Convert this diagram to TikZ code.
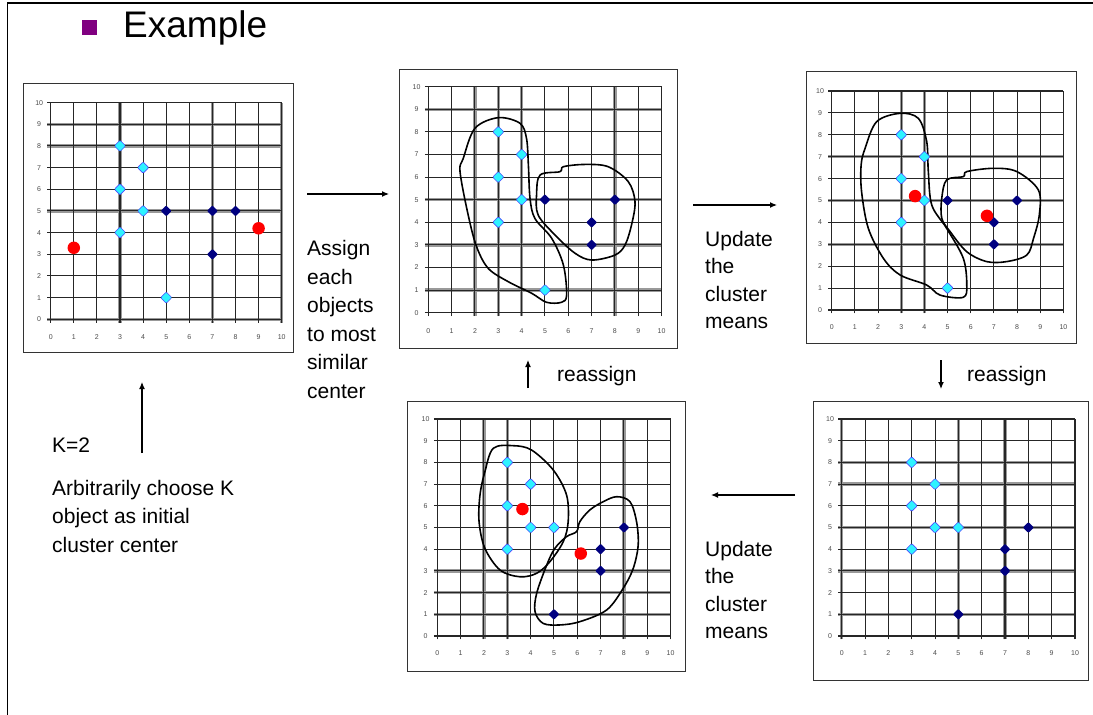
\documentclass[tikz,border=0pt]{standalone}
\usepackage{fontspec}
\setmainfont{Liberation Sans}
\usepackage{tikz}
\usetikzlibrary{arrows.meta,shapes.geometric}
\definecolor{kNavy}{HTML}{000080}
\definecolor{kCyan}{HTML}{2EF2FF}
\definecolor{kPurple}{HTML}{800080}

% grid of one panel: name, shaded x lines, shaded y lines
\newcommand{\kgrid}[3]{%
  \foreach \i in {#2} \draw[gridhalo] (\i,-0.15) -- (\i,10);
  \foreach \i in {#3} \draw[gridhalo] (-0.15,\i) -- (10,\i);
  \foreach \i in {0,...,10}{
    \draw[gridline] (\i,-0.15) -- (\i,10);
    \draw[gridline] (-0.15,\i) -- (10,\i);
    \node[tick] (#1x\i) at (\i,-0.8) {\i};
    \node[tick] (#1y\i) at (-0.5,\i) {\i};}}

\begin{document}
\begin{tikzpicture}[x=1pt,y=-1pt,
  panel/.style={draw=black!80,line width=1.3pt,fill=white,anchor=north west,inner sep=0pt},
  gridline/.style={black!85,line width=1.05pt},
  gridhalo/.style={black!40,line width=3.4pt},
  tick/.style={font=\fontsize{7}{8}\selectfont,text=black!70,inner sep=0pt},
  cyanpt/.style={diamond,fill=kCyan,draw=blue!70,line width=0.6pt,inner sep=0pt,minimum size=11.5pt,rounded corners=1pt},
  navypt/.style={diamond,fill=kNavy,inner sep=0pt,minimum size=11pt,rounded corners=1pt},
  redpt/.style={circle,fill=red,inner sep=0pt,minimum size=12.5pt},
  blob/.style={line width=1.6pt,line join=round},
  txt/.style={font=\fontsize{21}{27.5}\selectfont,align=left,inner sep=0pt,anchor=north west},
  arrow/.style={-{Latex[length=7pt,width=6pt]},line width=1.2pt}]
\fill[white] (0,0) rectangle (1093,715);
\useasboundingbox (0,0) rectangle (1093,715);
\draw[line width=1.8pt] (7.5,715) -- (7.5,3) -- (1093,3);
\node[fill=kPurple,minimum size=15pt,inner sep=0pt] (bullet) at (89.5,27.5) {};
\node[font=\fontsize{37}{40}\selectfont,anchor=base west,inner sep=0pt] (title) at (123,37) {Example};

% panels
\node[panel,minimum width=270pt,minimum height=269pt] (plot1) at (23,83) {};
\node[panel,minimum width=278pt,minimum height=279pt] (plot2) at (399,69) {};
\node[panel,minimum width=270pt,minimum height=272pt] (plot3) at (806,71) {};
\node[panel,minimum width=278pt,minimum height=270pt] (plot4) at (407,401) {};
\node[panel,minimum width=275pt,minimum height=279pt] (plot5) at (813,401) {};

\begin{scope}[shift={(50.7,319.3)},x=23.1pt,y=21.67pt]
\kgrid{ga}{3,7,10}{0,5,8,9}
\foreach \p [count=\i] in {(3,8),(4,7),(3,6),(4,5),(3,4),(5,1)} \node[cyanpt] (ac\i) at \p {};
\foreach \p [count=\i] in {(5,5),(7,5),(8,5),(7,3)} \node[navypt] (an\i) at \p {};
\node[redpt] (ar1) at (1,3.3) {};
\node[redpt] (ar2) at (9,4.2) {};
\end{scope}

\begin{scope}[shift={(428.3,312.7)},x=23.33pt,y=22.6pt]
\kgrid{gb}{2,3,4,8}{1,3,5,9}
\draw[blob] plot[smooth cycle,tension=0.55] coordinates {(2.0,8.16) (3.0,8.63) (3.93,8.38) (4.21,7.71) (4.29,6.53) (4.36,5.06) (4.57,4.17) (5.29,3.29) (5.79,2.11) (5.93,0.78) (5.71,0.46) (5.07,0.46) (4.43,0.86) (3.43,1.37) (2.57,1.96) (2.07,2.92) (1.71,4.32) (1.36,6.24) (1.5,6.83)};
\draw[blob] plot[smooth cycle,tension=0.55] coordinates {(4.79,6.09) (5.64,6.24) (5.79,6.46) (6.71,6.56) (7.71,6.46) (8.57,5.80) (8.86,4.91) (8.71,3.88) (8.43,2.99) (8.0,2.55) (7.0,2.33) (6.29,2.63) (5.43,3.44) (4.71,4.32) (4.64,5.21)};
\foreach \p [count=\i] in {(3,8),(4,7),(3,6),(4,5),(3,4),(5,1)} \node[cyanpt] (bc\i) at \p {};
\foreach \p [count=\i] in {(5,5),(8,5),(7,4),(7,3)} \node[navypt] (bn\i) at \p {};
\end{scope}

\begin{scope}[shift={(831.7,310)},x=23.17pt,y=21.9pt]
\kgrid{gc}{3,4}{3,5,7}
\draw[blob] plot[smooth cycle,tension=0.55] coordinates {(1.94,8.6) (2.95,8.98) (3.74,8.75) (4.1,7.69) (4.17,6.32) (4.32,4.79) (4.96,3.73) (5.68,2.36) (5.83,1.14) (5.68,0.58) (4.68,0.68) (4.1,1.14) (2.95,1.6) (2.23,2.36) (1.58,3.73) (1.29,5.40) (1.27,6.62) (1.44,7.38)};
\draw[blob] plot[smooth cycle,tension=0.55] coordinates {(4.96,5.94) (5.68,6.09) (5.83,6.32) (6.98,6.47) (7.99,6.32) (8.92,5.48) (8.96,4.34) (8.71,3.27) (8.42,2.51) (7.55,2.21) (6.69,2.21) (5.83,2.66) (5.11,3.58) (4.75,4.19) (4.75,5.10)};
\foreach \p [count=\i] in {(3,8),(4,7),(3,6),(4,5),(3,4),(5,1)} \node[cyanpt] (cc\i) at \p {};
\foreach \p [count=\i] in {(5,5),(8,5),(7,4),(7,3)} \node[navypt] (cn\i) at \p {};
\node[redpt] (cr1) at (3.6,5.2) {};
\node[redpt] (cr2) at (6.7,4.3) {};
\end{scope}

\begin{scope}[shift={(437.3,636)},x=23.33pt,y=21.7pt]
\kgrid{gd}{2,3,8}{1,2,3}
\draw[blob] plot[smooth cycle,tension=0.55] coordinates {(2.4,8.65) (3.26,8.77) (4.04,8.57) (4.97,7.65) (5.54,6.5) (5.61,5.27) (5.4,4.35) (4.83,3.43) (4.26,2.89) (3.54,2.73) (2.69,3.04) (2.04,4.04) (1.79,5.27) (1.83,6.5) (2.04,7.57)};
\draw[blob] plot[smooth cycle,tension=0.55] coordinates {(6.11,5.27) (6.54,5.81) (7.11,6.19) (7.69,6.42) (8.26,6.19) (8.54,5.27) (8.61,4.19) (8.4,3.12) (7.97,2.2) (7.26,1.2) (6.11,0.66) (5.26,0.51) (4.54,0.58) (4.19,1.12) (4.26,1.97) (4.69,3.27) (5.04,4.04) (5.54,4.58) (5.97,4.81)};
\foreach \p [count=\i] in {(3,8),(4,7),(3,6),(4,5),(5,5),(3,4)} \node[cyanpt] (dc\i) at \p {};
\foreach \p [count=\i] in {(8,5),(7,4),(7,3),(5,1)} \node[navypt] (dn\i) at \p {};
\node[redpt] (dr1) at (3.65,5.85) {};
\node[redpt] (dr2) at (6.15,3.8) {};
\end{scope}

\begin{scope}[shift={(841.7,636)},x=23.33pt,y=21.7pt]
\kgrid{ge}{0,5,7}{1,3,5,7,8}
\foreach \p [count=\i] in {(3,8),(4,7),(3,6),(4,5),(5,5),(3,4)} \node[cyanpt] (ec\i) at \p {};
\foreach \p [count=\i] in {(8,5),(7,4),(7,3),(5,1)} \node[navypt] (en\i) at \p {};
\end{scope}

% arrows between the steps
\coordinate (a1s) at (307,194); \coordinate (a1e) at (389,194);
\coordinate (a2s) at (693,205); \coordinate (a2e) at (777,205);
\coordinate (a3s) at (941,360); \coordinate (a3e) at (941,389);
\coordinate (a4s) at (795,495); \coordinate (a4e) at (711,495);
\coordinate (a5s) at (528,388); \coordinate (a5e) at (528,360);
\coordinate (a6s) at (142,453); \coordinate (a6e) at (142,382);
\draw[arrow] (a1s) -- (a1e); \draw[arrow] (a2s) -- (a2e); \draw[arrow] (a3s) -- (a3e);
\draw[arrow] (a4s) -- (a4e); \draw[arrow] (a5s) -- (a5e); \draw[arrow] (a6s) -- (a6e);

\node[txt,font=\fontsize{21}{28.6}\selectfont] (assign) at (307,240) {Assign\\each\\objects\\to most\\similar\\center};
\node[txt] (update) at (705,231) {Update\\the\\cluster\\means};
\node[txt] (updateb) at (705,541) {Update\\the\\cluster\\means};
\node[txt,anchor=base west] (reassl) at (557,381) {reassign};
\node[txt,anchor=base west] (reassr) at (967,381) {reassign};
\node[txt,anchor=base west] (kval) at (52,452) {K=2};
\node[txt,font=\fontsize{21}{28.5}\selectfont] (choose) at (52,480) {Arbitrarily choose K\\object as initial\\cluster center};
\end{tikzpicture}
\end{document}
